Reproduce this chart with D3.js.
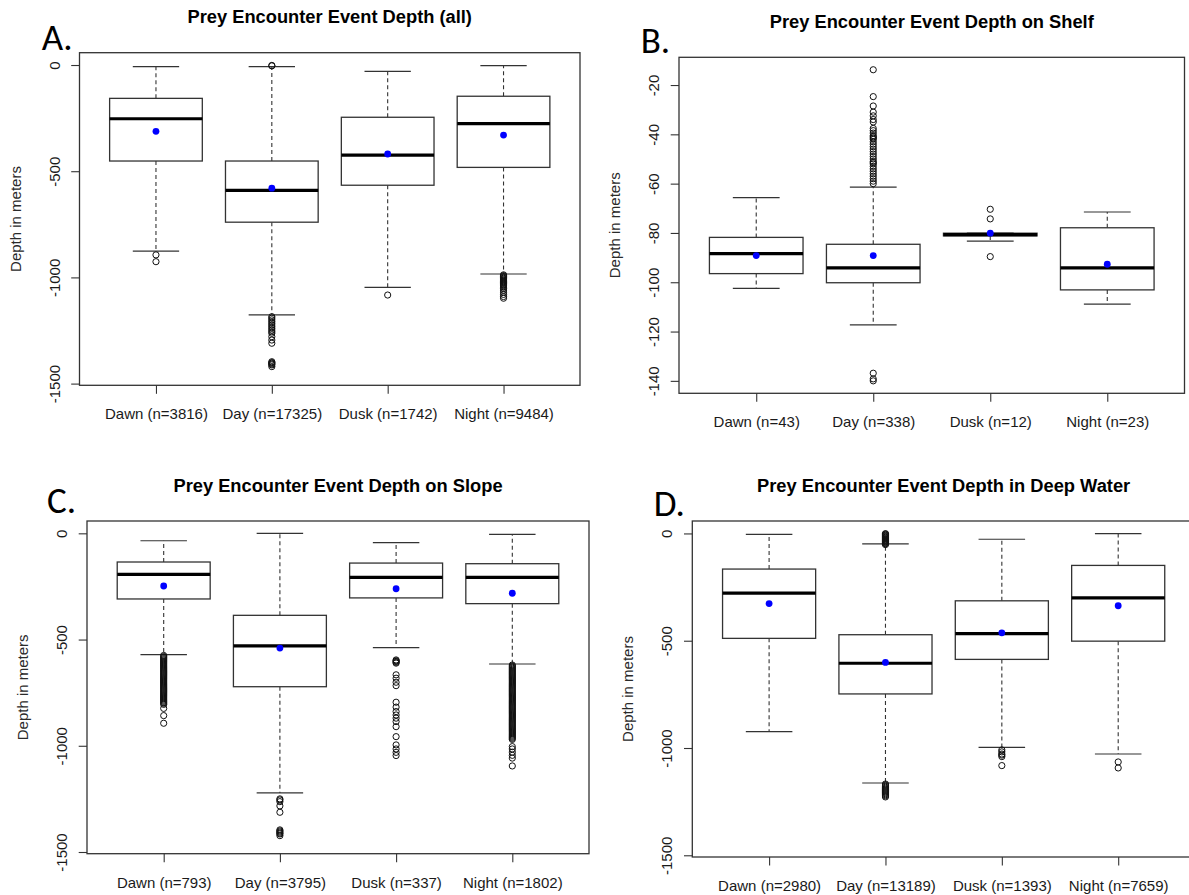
<!DOCTYPE html>
<html>
<head>
<meta charset="utf-8">
<script src="https://cdn.jsdelivr.net/npm/d3@7"></script>
<style>
  html, body { margin: 0; padding: 0; background: #fff; }
  svg { display: block; }
  text { font-family: "Liberation Sans", Arial, sans-serif; }
</style>
</head>
<body>
<svg id="chart" width="1189" height="895"></svg>
<script>
// ---------------- DATA ----------------
const categories = ["Dawn", "Day", "Dusk", "Night"];

const titles = [
  "Prey Encounter Event Depth (all)",
  "Prey Encounter Event Depth on Shelf",
  "Prey Encounter Event Depth on Slope",
  "Prey Encounter Event Depth in Deep Water"
];
const panelLetters = ["A.", "B.", "C.", "D."];
const yAxisLabel = "Depth in meters";

const countsAll   = [3816, 17325, 1742, 9484];
const countsShelf = [43, 338, 12, 23];
const countsSlope = [793, 3795, 337, 1802];
const countsDeep  = [2980, 13189, 1393, 7659];

const ticksDepth = [0, -500, -1000, -1500];
const ticksShelf = [-20, -40, -60, -80, -100, -120, -140];
const ylimDepth = [-1450, 0];
const ylimShelf = [-140, -13.8];

// [lower whisker, lower quartile, median, upper quartile, upper whisker]
const statsAll = [
  [-876, -452, -253, -157, -8],
  [-1176, -740, -590, -452, -8],
  [-1047, -566, -424, -246, -30],
  [-984, -482, -276, -147, -3]
];
const meansAll = [-312, -580, -419, -330];
const outliersAll = [
  [-894, -926],
  [-2, -4, -1185, -1192, -1200, -1208, -1216, -1224, -1232, -1240, -1248, -1256, -1263, -1279, -1295, -1310,
   -1397, -1401, -1404, -1408, -1412, -1420],
  [-1083],
  [-988, -992, -996, -1000, -1004, -1008, -1012, -1016, -1020, -1024, -1028, -1032, -1036, -1040,
   -1046, -1052, -1060, -1070, -1080, -1090, -1098]
];

const statsShelf = [
  [-102.5, -96.5, -88.4, -81.8, -65.7],
  [-117.3, -100.2, -94.2, -84.6, -61.4],
  [-83.3, -81.2, -80.7, -80.1, -80.1],
  [-108.9, -103.1, -94.2, -77.9, -71.5]
];
const meansShelf = [-89.2, -89.2, -80.1, -92.7];
const outliersShelf = [
  [],
  [-13.8, -24.7, -28.5, -31, -32.5, -34, -35, -37.6, -38.5, -39.5, -40.5, -41, -41.5, -42, -43, -44,
   -45, -46, -47, -48, -49, -50, -51, -51.5, -52, -53, -54, -55, -56, -57, -58, -59, -60,
   -136.9, -139.2, -140],
  [-70.4, -74.3, -89.6],
  []
];

const statsSlope = [
  [-571, -309, -193, -135, -35],
  [-1222, -722, -530, -386, 0],
  [-538, -304, -207, -140, -44],
  [-615, -331, -207, -143, -5]
];
const meansSlope = [-248, -540, -261, -282];
const outliersSlope = [
  [-575, -580, -585, -590, -595, -600, -605, -610, -615, -620, -625, -630, -635, -640, -645, -650,
   -655, -660, -665, -670, -675, -680, -685, -690, -695, -700, -705, -710, -715, -720, -725, -730,
   -735, -740, -745, -750, -755, -760, -765, -770, -775, -780, -785, -790, -795, -800, -805,
   -824, -858, -894],
  [-1250, -1255, -1263, -1283, -1313, -1396, -1401, -1406, -1411, -1415, -1423],
  [-596, -600, -603, -607, -611, -666, -682, -701, -717, -795, -818, -839, -855, -870, -886, -910, -957,
   -996, -1015, -1031, -1046],
  [-620, -625, -630, -635, -640, -645, -650, -655, -660, -665, -670, -675, -680, -685, -690, -695,
   -700, -705, -710, -715, -720, -725, -730, -735, -740, -745, -750, -755, -760, -765, -770, -775,
   -780, -785, -790, -795, -800, -805, -810, -815, -820, -825, -830, -835, -840, -845, -850, -855,
   -860, -865, -870, -875, -880, -885, -890, -895, -900, -905, -910, -915, -920, -925, -930, -935,
   -940, -945, -950, -955, -960, -965, -970,
   -1004, -1015, -1030, -1045, -1058, -1095]
];

const statsDeep = [
  [-924, -489, -278, -166, -4],
  [-1163, -748, -605, -472, -49],
  [-997, -587, -467, -314, -27],
  [-1028, -502, -300, -149, -1]
];
const meansDeep = [-327, -601, -463, -337];
const outliersDeep = [
  [],
  [-1, -3, -6, -9, -12, -15, -18, -21, -24, -27, -30, -33, -36, -39, -42, -45, -48, -52,
   -1168, -1173, -1178, -1183, -1188, -1193, -1198, -1203, -1208, -1213, -1218, -1223, -1228],
  [-1009, -1018, -1028, -1033, -1040, -1082],
  [-1065, -1093]
];

// ---------------- LAYOUT ----------------
const layout = [
  { left: 79.5, right: 580,  top: 52.7, bottom: 385.3, lx: 41.7,  ly: 50 },
  { left: 679,  right: 1184.5, top: 57.3, bottom: 393.3, lx: 640.7, ly: 53.3 },
  { left: 87,   right: 589,  top: 521,  bottom: 853.7, lx: 47,    ly: 513 },
  { left: 692.3, right: 1195, top: 521, bottom: 857,   lx: 653.7, ly: 515.7 }
];

const panels = [
  { stats: statsAll,   means: meansAll,   outliers: outliersAll,   counts: countsAll,   ticks: ticksDepth, ylim: ylimDepth },
  { stats: statsShelf, means: meansShelf, outliers: outliersShelf, counts: countsShelf, ticks: ticksShelf, ylim: ylimShelf },
  { stats: statsSlope, means: meansSlope, outliers: outliersSlope, counts: countsSlope, ticks: ticksDepth, ylim: ylimDepth },
  { stats: statsDeep,  means: meansDeep,  outliers: outliersDeep,  counts: countsDeep,  ticks: ticksDepth, ylim: ylimDepth }
];

const svg = d3.select("#chart");
svg.append("rect").attr("width", 1189).attr("height", 895).attr("fill", "#fff");

const LINE = "#333";

panels.forEach((d, pi) => {
  const p = layout[pi];
  const g = svg.append("g");
  const ext = (d.ylim[1] - d.ylim[0]) * 0.04;
  const y = d3.scaleLinear().domain([d.ylim[0] - ext, d.ylim[1] + ext]).range([p.bottom, p.top]);
  const x = d3.scalePoint().domain(categories).range([p.left, p.right]).padding(0.66);
  const bw = 0.8 * x.step();
  const cap = 0.5 * bw;

  categories.forEach((c, i) => {
    const [wLo, q1, med, q3, wHi] = d.stats[i];
    const cx = x(c);
    const bg = g.append("g");
    // whiskers
    bg.append("line").attr("x1", cx).attr("x2", cx).attr("y1", y(q1)).attr("y2", y(wLo))
      .attr("stroke", LINE).attr("stroke-width", 1.1).attr("stroke-dasharray", "4,3");
    bg.append("line").attr("x1", cx).attr("x2", cx).attr("y1", y(q3)).attr("y2", y(wHi))
      .attr("stroke", LINE).attr("stroke-width", 1.1).attr("stroke-dasharray", "4,3");
    // caps
    [wLo, wHi].forEach(v => {
      bg.append("line").attr("x1", cx - cap / 2).attr("x2", cx + cap / 2)
        .attr("y1", y(v)).attr("y2", y(v)).attr("stroke", LINE).attr("stroke-width", 1.2);
    });
    // box
    bg.append("rect").attr("x", cx - bw / 2).attr("width", bw)
      .attr("y", y(q3)).attr("height", Math.max(0.5, y(q1) - y(q3)))
      .attr("fill", "#fff").attr("stroke", LINE).attr("stroke-width", 1.3);
    // median
    bg.append("line").attr("x1", cx - bw / 2).attr("x2", cx + bw / 2)
      .attr("y1", y(med)).attr("y2", y(med)).attr("stroke", "#000").attr("stroke-width", 3.2);
    // outliers
    bg.selectAll("circle.out").data(d.outliers[i]).enter().append("circle")
      .attr("class", "out").attr("cx", cx).attr("cy", v => y(v)).attr("r", 3.1)
      .attr("fill", "none").attr("stroke", "#111").attr("stroke-width", 1);
    // mean
    bg.append("circle").attr("cx", cx).attr("cy", y(d.means[i])).attr("r", 3.4)
      .attr("fill", "#0000ff");
  });

  // frame
  g.append("rect").attr("x", p.left).attr("y", p.top)
    .attr("width", p.right - p.left).attr("height", p.bottom - p.top)
    .attr("fill", "none").attr("stroke", LINE).attr("stroke-width", 1.3);

  // y axis
  const ya = g.append("g").attr("transform", `translate(${p.left},0)`)
    .call(d3.axisLeft(y).tickValues(d.ticks).tickSize(8.3).tickSizeOuter(0).tickFormat(v => String(v)));
  ya.select(".domain").remove();
  ya.selectAll(".tick line").attr("stroke", LINE).attr("stroke-width", 1.1);
  ya.selectAll(".tick text")
    .attr("transform", "rotate(-90)").attr("x", 0).attr("y", -20).attr("dy", null)
    .attr("text-anchor", "middle").attr("fill", "#1a1a1a")
    .style("font-size", "15px").style("font-family", "'Liberation Sans', Arial, sans-serif");

  // x axis
  const xa = g.append("g").attr("transform", `translate(0,${p.bottom})`)
    .call(d3.axisBottom(x).tickSize(8.5).tickSizeOuter(0)
      .tickFormat((c, i) => `${c} (n=${d.counts[i]})`));
  xa.select(".domain").remove();
  xa.selectAll(".tick line").attr("stroke", LINE).attr("stroke-width", 1.1);
  xa.selectAll(".tick text").attr("y", 34).attr("dy", null).attr("fill", "#1a1a1a")
    .style("font-size", "15px").style("font-family", "'Liberation Sans', Arial, sans-serif");

  // y label
  g.append("text")
    .attr("transform", `translate(${p.left - 59},${(p.top + p.bottom) / 2}) rotate(-90)`)
    .attr("text-anchor", "middle").attr("fill", "#2a2a2a").style("font-size", "15px")
    .text(yAxisLabel);

  // title
  g.append("text").attr("x", (p.left + p.right) / 2).attr("y", p.top - 29.5)
    .attr("text-anchor", "middle").attr("fill", "#000")
    .style("font-size", "18.3px").style("font-weight", "bold")
    .text(titles[pi]);

  // panel letter
  g.append("text").attr("x", p.lx).attr("y", p.ly).attr("fill", "#000")
    .style("font-family", "Carlito, Lato, 'Open Sans', sans-serif").style("font-size", "37px")
    .text(panelLetters[pi]);
});
</script>
</body>
</html>
